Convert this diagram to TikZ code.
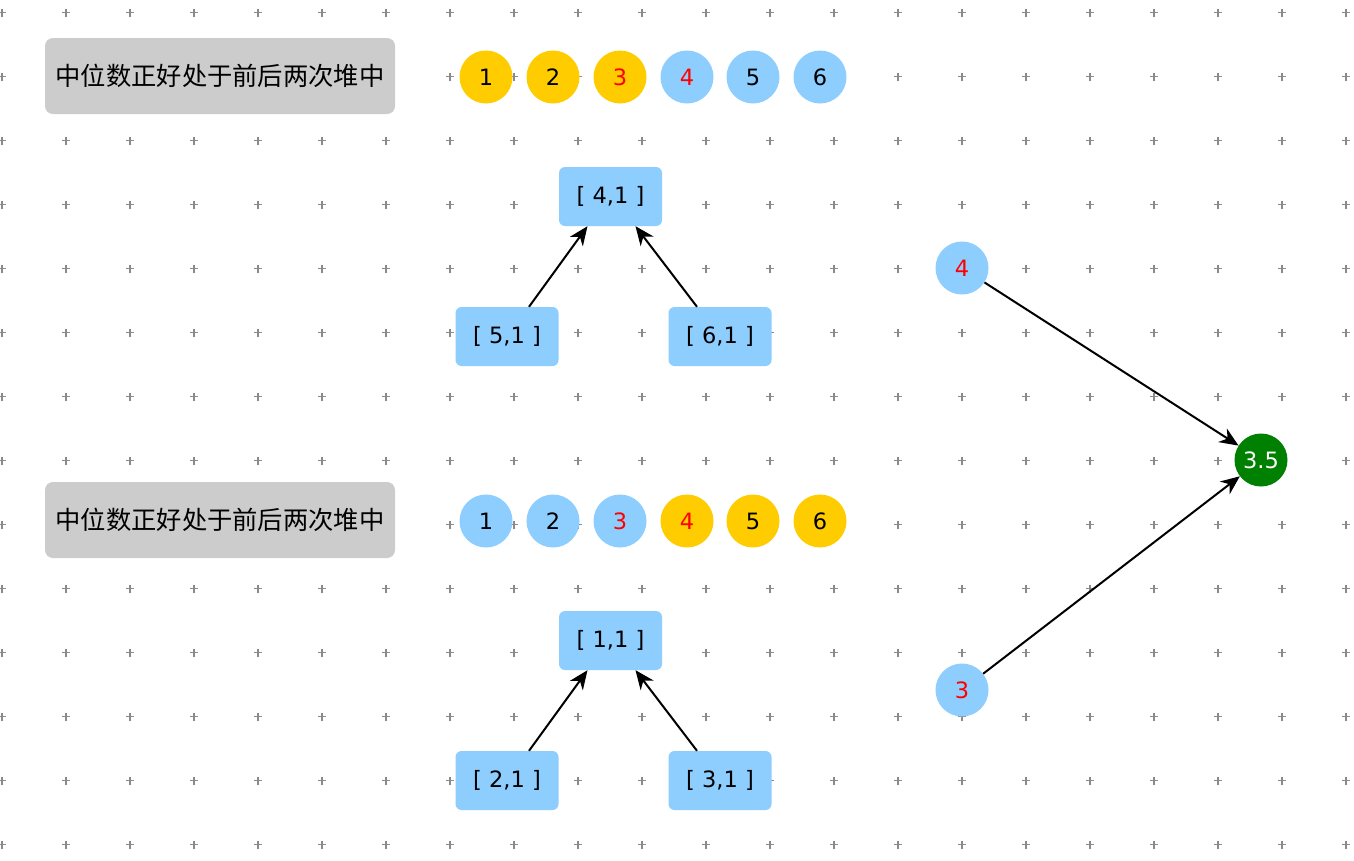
\documentclass[tikz,border=0pt]{standalone}
\usepackage{fontspec}
\setmainfont{DejaVu Sans}
\newfontfamily\cjk{Noto Sans CJK SC}
\usetikzlibrary{arrows.meta}
\definecolor{lblue}{HTML}{8ECEFF}
\definecolor{yel}{HTML}{FFCC00}
\definecolor{gbg}{HTML}{CCCCCC}
\definecolor{grn}{HTML}{008000}
\definecolor{gridc}{HTML}{8A8A8A}
\begin{document}
\begin{tikzpicture}[x=1pt,y=-1pt,
  circ/.style={circle, minimum size=53pt, inner sep=0pt, font=\fontsize{22.5}{26}\selectfont},
  bc/.style={circ, fill=lblue},
  yc/.style={circ, fill=yel},
  rbox/.style={rectangle, rounded corners=6pt, fill=lblue, minimum width=103pt, minimum height=59pt, inner sep=0pt, font=\fontsize{22.5}{26}\selectfont},
  gbox/.style={rectangle, rounded corners=8pt, fill=gbg, minimum width=350pt, minimum height=76pt, inner sep=0pt, font=\cjk\fontsize{25.3}{30}\selectfont},
  arr/.style={-{Stealth[length=19pt,width=16pt,inset=6pt]}, line width=2pt, black},
  gridmark/.style={draw=gridc, line width=1.6pt}
]
\useasboundingbox[fill=white] (0,0) rectangle (1354,860);
% grid marks
\foreach \i in {0,...,21}{
  \foreach \j in {0,...,13}{
    \path[gridmark] ({2+64*\i-4},{12.5+64*\j}) -- ++(8,0)
                    ({2+64*\i},{12.5+64*\j-4}) -- ++(0,8);
  }
}
% upper half
\node[gbox] (g1) at (220,76) {中位数正好处于前后两次堆中};
\node[yc] (u1) at (486,77) {1};
\node[yc] (u2) at (553,77) {2};
\node[yc] (u3) at (620,77) {\textcolor{red}{3}};
\node[bc] (u4) at (687,77) {\textcolor{red}{4}};
\node[bc] (u5) at (753,77) {5};
\node[bc] (u6) at (820,77) {6};

\node[rbox] (t41) at (610.5,196.5) {[ 4,1 ]};
\node[rbox] (t51) at (507,336.5) {[ 5,1 ]};
\node[rbox] (t61) at (720,336.5) {[ 6,1 ]};
\draw[arr] ([xshift=22pt]t51.north) -- ([xshift=-23pt]t41.south);
\draw[arr] ([xshift=-23pt]t61.north) -- ([xshift=25pt]t41.south);

% lower half
\node[gbox] (g2) at (220,520) {中位数正好处于前后两次堆中};
\node[bc] (l1) at (486,521) {1};
\node[bc] (l2) at (553,521) {2};
\node[bc] (l3) at (620,521) {\textcolor{red}{3}};
\node[yc] (l4) at (687,521) {\textcolor{red}{4}};
\node[yc] (l5) at (753,521) {5};
\node[yc] (l6) at (820,521) {6};

\node[rbox] (t11) at (610.5,640.5) {[ 1,1 ]};
\node[rbox] (t21) at (507,780.5) {[ 2,1 ]};
\node[rbox] (t31) at (720,780.5) {[ 3,1 ]};
\draw[arr] ([xshift=22pt]t21.north) -- ([xshift=-23pt]t11.south);
\draw[arr] ([xshift=-23pt]t31.north) -- ([xshift=25pt]t11.south);

% right side
\node[bc] (m4) at (962,268) {\textcolor{red}{4}};
\node[bc] (m3) at (962,690) {\textcolor{red}{3}};
\node[circ, fill=grn, text=white] (med) at (1261,460) {3.5};
\draw[arr] (m4) -- (med);
\draw[arr] (m3) -- (med);
\end{tikzpicture}
\end{document}
